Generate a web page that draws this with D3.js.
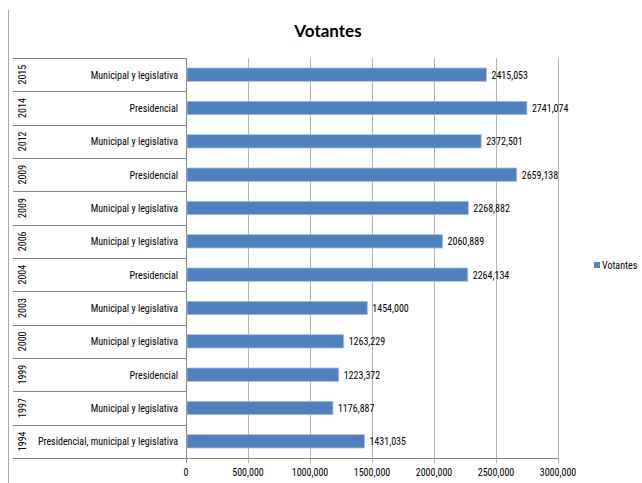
<!DOCTYPE html>
<html>
<head>
<meta charset="utf-8">
<script src="https://cdnjs.cloudflare.com/ajax/libs/d3/7.8.5/d3.min.js"></script>
<style>
  body { margin: 0; background: #fff; }
  text { font-family: "Roboto Condensed", Lato, sans-serif; font-size: 10px; fill: #000; }
</style>
</head>
<body>
<div id="chart"></div>
<script>
// chart data, top row first
var years = ['2015', '2014', '2012', '2009', '2009', '2006', '2004', '2003', '2000', '1999', '1997', '1994'];
var elections = ['Municipal y legislativa', 'Presidencial', 'Municipal y legislativa', 'Presidencial',
    'Municipal y legislativa', 'Municipal y legislativa', 'Presidencial', 'Municipal y legislativa',
    'Municipal y legislativa', 'Presidencial', 'Municipal y legislativa',
    'Presidencial, municipal y legislativa'];
var votantes = [2415053, 2741074, 2372501, 2659138, 2268882, 2060889, 2264134, 1454000,
    1263229, 1223372, 1176887, 1431035];
var xTicks = [0, 500000, 1000000, 1500000, 2000000, 2500000, 3000000];
var seriesName = 'Votantes';

(function() {
  var width = 642,
      height = 483,
      left = 186,
      right = 558,
      top = 58,
      bottom = 458,
      barColor = '#4f81bd',
      gridColor = '#b3b3b3',
      axisColor = '#868686';

  // only the last group gets a comma, like the source sheet
  var fmt = function(v) {
    if (v < 1000) { return String(v); }
    var rest = String(v % 1000);
    while (rest.length < 3) { rest = '0' + rest; }
    return Math.floor(v / 1000) + ',' + rest;
  };

  var svg = d3.select('#chart').append('svg')
      .attr('width', width)
      .attr('height', height);

  var x = d3.scaleLinear().domain([0, 3000000]).range([left, right]);
  var y = d3.scaleBand().domain(d3.range(votantes.length))
      .range([top, bottom]).paddingInner(0.6).paddingOuter(0.3);
  var row = (bottom - top) / votantes.length;

  // outer chart border on the left
  svg.append('line')
      .attr('x1', 8.5).attr('x2', 8.5).attr('y1', 10).attr('y2', height)
      .attr('stroke', '#a6a6a6');

  svg.append('text')
      .attr('x', 328).attr('y', 37)
      .attr('text-anchor', 'middle')
      .style('font-family', 'Lato, sans-serif')
      .style('font-size', '17px').style('font-weight', 'bold')
      .text(seriesName);

  // vertical gridlines + tick marks
  svg.selectAll('.grid').data(xTicks).enter().append('line')
      .attr('x1', function(d) { return Math.round(x(d)) + 0.5; })
      .attr('x2', function(d) { return Math.round(x(d)) + 0.5; })
      .attr('y1', top).attr('y2', bottom + 5)
      .attr('stroke', function(d) { return d === 0 ? axisColor : gridColor; });

  svg.selectAll('.tick').data(xTicks).enter().append('text')
      .attr('x', function(d) { return x(d); })
      .attr('y', bottom + 18)
      .attr('text-anchor', 'middle')
      .text(fmt);

  // x axis line
  svg.append('line')
      .attr('x1', 13).attr('x2', right + 0.5)
      .attr('y1', bottom + 0.5).attr('y2', bottom + 0.5)
      .attr('stroke', axisColor);

  // row separators of the two-level category axis
  svg.selectAll('.sep').data(d3.range(votantes.length)).enter().append('line')
      .attr('x1', 13).attr('x2', left)
      .attr('y1', function(i) { return Math.round(top + i * row) + 0.5; })
      .attr('y2', function(i) { return Math.round(top + i * row) + 0.5; })
      .attr('stroke', axisColor);

  svg.selectAll('.bar').data(votantes).enter().append('rect')
      .attr('x', x(0) + 1)
      .attr('y', function(d, i) { return y(i); })
      .attr('width', function(d) { return x(d) - x(0); })
      .attr('height', y.bandwidth())
      .attr('fill', barColor)
      .attr('stroke', '#a7c0de')
      .attr('stroke-width', 0.8);

  svg.selectAll('.val').data(votantes).enter().append('text')
      .attr('x', function(d) { return x(d) + 6; })
      .attr('y', function(d, i) { return y(i) + y.bandwidth() / 2 + 4; })
      .text(fmt);

  svg.selectAll('.cat').data(elections).enter().append('text')
      .attr('x', 178)
      .attr('y', function(d, i) { return y(i) + y.bandwidth() / 2 + 4; })
      .attr('text-anchor', 'end')
      .text(function(d) { return d; });

  svg.selectAll('.year').data(years).enter().append('text')
      .attr('transform', function(d, i) {
        return 'translate(26,' + (y(i) + y.bandwidth() / 2) + ') rotate(-90)';
      })
      .attr('text-anchor', 'middle')
      .text(function(d) { return d; });

  // legend
  svg.append('rect')
      .attr('x', 594).attr('y', 262).attr('width', 6).attr('height', 6)
      .attr('fill', barColor);
  svg.append('text')
      .attr('x', 602).attr('y', 269)
      .text(seriesName);
})();
</script>
</body>
</html>
